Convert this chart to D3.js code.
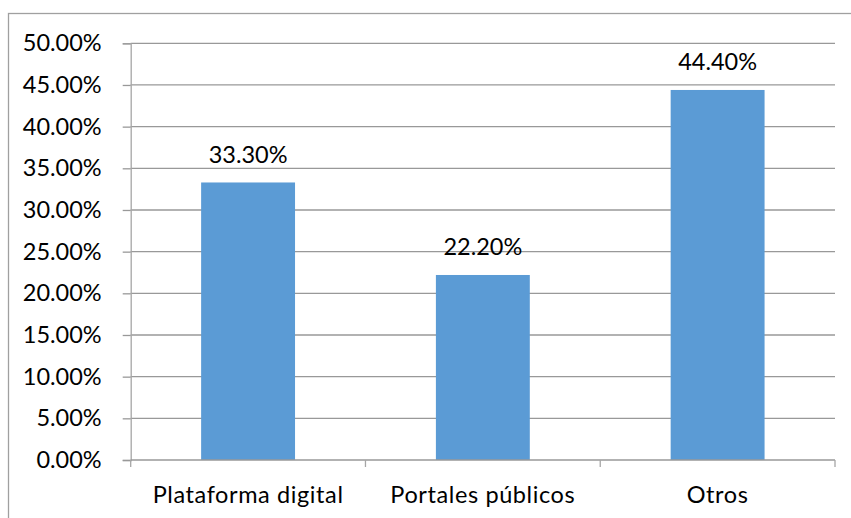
<!DOCTYPE html>
<meta charset="utf-8">
<script src="https://d3js.org/d3.v7.min.js"></script>
<style>
  body { margin: 0; background: #fff; }
  text { font-family: Lato, "Open Sans", sans-serif; fill: #000; }
</style>
<div class="vis"></div>
<script>
    // chart values
    var categories = ["Plataforma digital", "Portales públicos", "Otros"];
    var shares = [0.333, 0.222, 0.444];
    var yTicks = [0, 0.05, 0.10, 0.15, 0.20, 0.25, 0.30, 0.35, 0.40, 0.45, 0.50];

    var width = 851, height = 518;
    var margin = { top: 43.3, right: 16, bottom: 58, left: 130.7 };

    var svg = d3.select('.vis')
        .append("svg")
        .attr("width", width)
        .attr("height", height);

    // outer chart border
    svg.append("rect")
        .attr("x", 8.5)
        .attr("y", 13.5)
        .attr("width", 900)
        .attr("height", 600)
        .attr("fill", "none")
        .attr("stroke", "#a0a0a0")
        .attr("stroke-width", 1.3);

    var y = d3.scaleLinear()
        .domain([0, 0.5])
        .range([height - margin.bottom, margin.top]);

    var x = d3.scaleBand()
        .domain(categories)
        .range([margin.left, width - margin.right])
        .paddingInner(0.6)
        .paddingOuter(0.3);

    var x0 = x.range()[0], x1 = x.range()[1];

    // gridlines
    svg.append("g")
        .selectAll("line")
        .data(yTicks.slice(1))
        .join("line")
        .attr("x1", x0)
        .attr("x2", x1)
        .attr("y1", d => y(d))
        .attr("y2", d => y(d))
        .attr("stroke", "#999")
        .attr("stroke-width", 1.3);

    // y axis
    var yAxis = svg.append("g")
        .attr("transform", `translate(${x0},0)`)
        .call(d3.axisLeft(y).tickValues(yTicks).tickSize(8).tickPadding(21).tickFormat(d3.format(".2%")));
    yAxis.select(".domain").attr("stroke", "#a6a6a6").attr("stroke-width", 1.3);
    yAxis.selectAll(".tick line").attr("stroke", "#999").attr("stroke-width", 1.3);
    yAxis.selectAll(".tick text").attr("font-size", 23.5).attr("fill", "#000")
        .style("font-family", "Lato, 'Open Sans', sans-serif");

    // bars
    svg.append("g")
        .selectAll("rect")
        .data(categories)
        .join("rect")
        .attr("x", d => x(d))
        .attr("width", x.bandwidth())
        .attr("y", (d, i) => y(shares[i]))
        .attr("height", (d, i) => y(0) - y(shares[i]))
        .attr("fill", "#5b9bd5");

    // x axis line with ticks at category boundaries
    var xg = svg.append("g");
    xg.append("line")
        .attr("x1", x0).attr("x2", x1)
        .attr("y1", y(0)).attr("y2", y(0))
        .attr("stroke", "#999").attr("stroke-width", 1.3);
    xg.selectAll(".bt")
        .data(d3.range(categories.length + 1))
        .join("line")
        .attr("class", "bt")
        .attr("x1", i => x0 + i * x.step())
        .attr("x2", i => x0 + i * x.step())
        .attr("y1", y(0))
        .attr("y2", y(0) + 7)
        .attr("stroke", "#a6a6a6").attr("stroke-width", 1.3);
    xg.selectAll("text")
        .data(categories)
        .join("text")
        .attr("x", d => x(d) + x.bandwidth() / 2)
        .attr("y", y(0) + 43)
        .attr("text-anchor", "middle")
        .attr("font-size", 23.5)
        .attr("letter-spacing", 0.6)
        .text(d => d);

    // data labels
    svg.append("g")
        .selectAll("text")
        .data(categories)
        .join("text")
        .attr("x", d => x(d) + x.bandwidth() / 2)
        .attr("y", (d, i) => y(shares[i]) - 19.6)
        .attr("text-anchor", "middle")
        .attr("font-size", 23.5)
        .text((d, i) => d3.format(".2%")(shares[i]));
</script>
